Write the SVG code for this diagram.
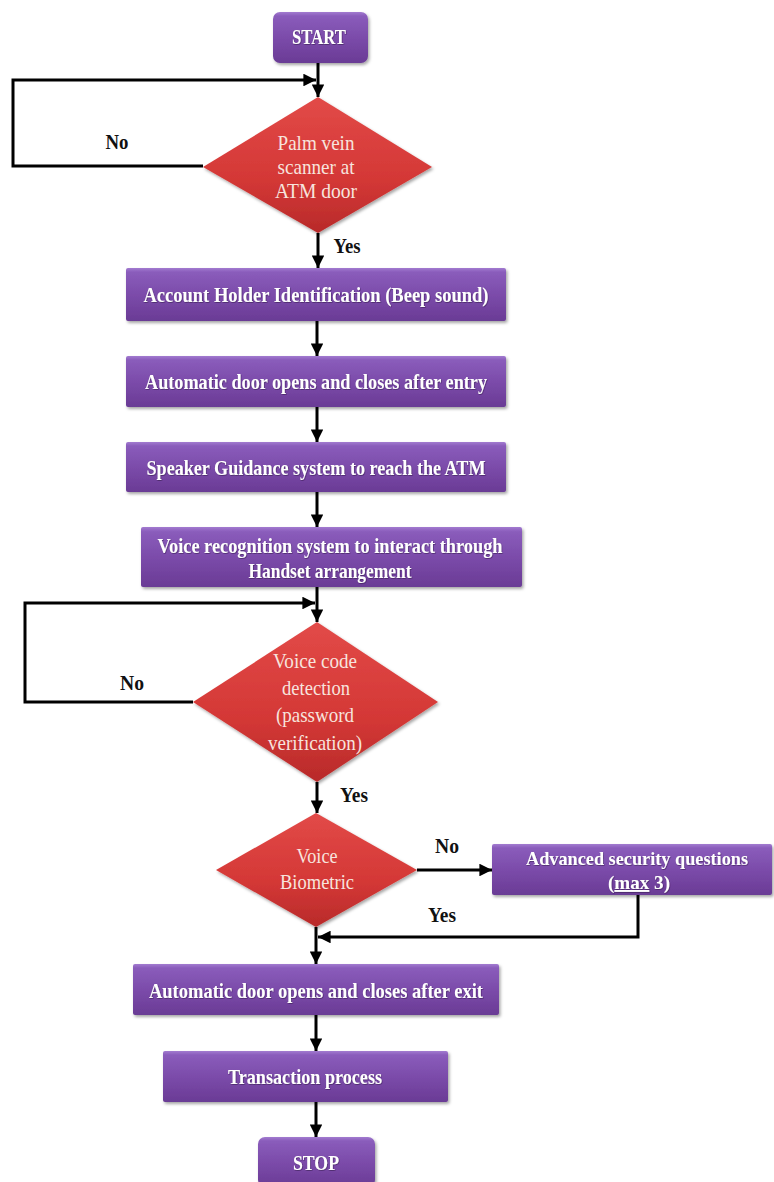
<svg xmlns="http://www.w3.org/2000/svg" width="774" height="1182" viewBox="0 0 774 1182">
<defs>
<linearGradient id="gp" x1="0" y1="0" x2="0" y2="1">
<stop offset="0" stop-color="#a27bd0"/>
<stop offset="0.08" stop-color="#8a5cbb"/>
<stop offset="0.6" stop-color="#7848a6"/>
<stop offset="1" stop-color="#6a3b95"/>
</linearGradient>
<linearGradient id="gr" x1="0" y1="0" x2="0" y2="1">
<stop offset="0" stop-color="#e24a48"/>
<stop offset="0.6" stop-color="#d43836"/>
<stop offset="1" stop-color="#b82a2a"/>
</linearGradient>
<filter id="sh" x="-10%" y="-10%" width="125%" height="140%">
<feDropShadow dx="1.5" dy="2" stdDeviation="1.5" flood-color="#000" flood-opacity="0.35"/>
</filter>
<filter id="ts" x="-5%" y="-20%" width="110%" height="150%">
<feDropShadow dx="0.6" dy="0.8" stdDeviation="0.5" flood-color="#2a0f40" flood-opacity="0.6"/>
</filter>
<marker id="ah" viewBox="0 0 10 10" refX="10" refY="5" markerWidth="4.2" markerHeight="4.2" orient="auto" markerUnits="strokeWidth">
<path d="M0,0 L10,5 L0,10 z" fill="#000"/>
</marker>
</defs>
<style>
.box{fill:url(#gp);filter:url(#sh);}
.dia{fill:url(#gr);filter:url(#sh);}
.bt{font-family:"Liberation Serif","Times New Roman",serif;font-weight:bold;font-size:21px;fill:#fff;text-anchor:middle;filter:url(#ts);}
.sm{font-size:19px;}
.dt{font-family:"Liberation Serif","Times New Roman",serif;font-size:22px;fill:#f7e4de;text-anchor:middle;}
.lb{font-family:"Liberation Serif","Times New Roman",serif;font-weight:bold;font-size:20px;fill:#111;text-anchor:middle;}
.cn{fill:none;stroke:#000;stroke-width:3;}
</style>
<rect width="774" height="1182" fill="#fff"/>

<g id="connectors">
<line class="cn" x1="318" y1="63" x2="318" y2="97" marker-end="url(#ah)"/>
<polyline class="cn" points="203,166 13,166 13,80 316,80" marker-end="url(#ah)"/>
<line class="cn" x1="318" y1="233" x2="318" y2="268" marker-end="url(#ah)"/>
<line class="cn" x1="317" y1="321" x2="317" y2="356" marker-end="url(#ah)"/>
<line class="cn" x1="317" y1="407" x2="317" y2="442" marker-end="url(#ah)"/>
<line class="cn" x1="317" y1="492" x2="317" y2="527" marker-end="url(#ah)"/>
<line class="cn" x1="317" y1="587" x2="317" y2="622" marker-end="url(#ah)"/>
<polyline class="cn" points="193,702 25,702 25,603 315,603" marker-end="url(#ah)"/>
<line class="cn" x1="317" y1="782" x2="317" y2="813" marker-end="url(#ah)"/>
<line class="cn" x1="417" y1="870" x2="492" y2="870" marker-end="url(#ah)"/>
<polyline class="cn" points="638,895 638,937 318,937" marker-end="url(#ah)"/>
<line class="cn" x1="316" y1="927" x2="316" y2="964" marker-end="url(#ah)"/>
<line class="cn" x1="316" y1="1015" x2="316" y2="1051" marker-end="url(#ah)"/>
<line class="cn" x1="316" y1="1102" x2="316" y2="1137" marker-end="url(#ah)"/>
<text class="lb" x="117" y="149" textLength="23" lengthAdjust="spacingAndGlyphs">No</text>
<text class="lb" x="347" y="253" textLength="27" lengthAdjust="spacingAndGlyphs">Yes</text>
<text class="lb" x="132" y="690" textLength="24" lengthAdjust="spacingAndGlyphs">No</text>
<text class="lb" x="354" y="802" textLength="28" lengthAdjust="spacingAndGlyphs">Yes</text>
<text class="lb" x="447" y="853" textLength="24" lengthAdjust="spacingAndGlyphs">No</text>
<text class="lb" x="442" y="922" textLength="28" lengthAdjust="spacingAndGlyphs">Yes</text>
</g>

<g id="start">
<rect class="box" x="273" y="12" width="95" height="51" rx="7"/>
<text class="bt" x="319" y="44" textLength="54" lengthAdjust="spacingAndGlyphs">START</text>
</g>

<g id="palm-vein">
<polygon class="dia" points="318,97 432,167 318,233 203,167"/>
<text class="dt" x="316" y="150" textLength="77" lengthAdjust="spacingAndGlyphs">Palm vein</text>
<text class="dt" x="316" y="174" textLength="77" lengthAdjust="spacingAndGlyphs">scanner at</text>
<text class="dt" x="316" y="198" textLength="82" lengthAdjust="spacingAndGlyphs">ATM door</text>
</g>

<g id="account-holder">
<rect class="box" x="126" y="268" width="380" height="53" rx="2"/>
<text class="bt" x="316" y="302" textLength="345" lengthAdjust="spacingAndGlyphs">Account Holder Identification (Beep sound)</text>
</g>

<g id="door-entry">
<rect class="box" x="126" y="356" width="380" height="51" rx="2"/>
<text class="bt" x="316" y="389" textLength="342" lengthAdjust="spacingAndGlyphs">Automatic door opens and closes after entry</text>
</g>

<g id="speaker-guidance">
<rect class="box" x="126" y="442" width="380" height="50" rx="2"/>
<text class="bt" x="316" y="475" textLength="339" lengthAdjust="spacingAndGlyphs">Speaker Guidance system to reach the ATM</text>
</g>

<g id="voice-recognition">
<rect class="box" x="141" y="527" width="381" height="60" rx="2"/>
<text class="bt" x="330" y="553" textLength="345" lengthAdjust="spacingAndGlyphs">Voice recognition system to interact through</text>
<text class="bt" x="330" y="578" textLength="163" lengthAdjust="spacingAndGlyphs">Handset arrangement</text>
</g>

<g id="voice-code">
<polygon class="dia" points="317,622 438,702 317,782 193,702"/>
<text class="dt" x="315" y="668" textLength="84" lengthAdjust="spacingAndGlyphs">Voice code</text>
<text class="dt" x="316" y="695" textLength="68" lengthAdjust="spacingAndGlyphs">detection</text>
<text class="dt" x="315" y="722" textLength="78" lengthAdjust="spacingAndGlyphs">(password</text>
<text class="dt" x="315" y="750" textLength="94" lengthAdjust="spacingAndGlyphs">verification)</text>
</g>

<g id="voice-biometric">
<polygon class="dia" points="316,813 417,870 316,927 216,870"/>
<text class="dt" x="317" y="863" textLength="41" lengthAdjust="spacingAndGlyphs">Voice</text>
<text class="dt" x="317" y="889" textLength="74" lengthAdjust="spacingAndGlyphs">Biometric</text>
</g>

<g id="security-questions">
<rect class="box" x="492" y="844" width="280" height="51" rx="2"/>
<text class="bt sm" x="637" y="865" textLength="222" lengthAdjust="spacingAndGlyphs">Advanced  security questions</text>
<text class="bt sm" x="639" y="889" textLength="62" lengthAdjust="spacingAndGlyphs">(<tspan text-decoration="underline">max</tspan> 3)</text>
</g>

<g id="door-exit">
<rect class="box" x="133" y="964" width="366" height="51" rx="2"/>
<text class="bt" x="316" y="998" textLength="334" lengthAdjust="spacingAndGlyphs">Automatic door opens and closes after exit</text>
</g>

<g id="transaction">
<rect class="box" x="163" y="1051" width="285" height="51" rx="2"/>
<text class="bt" x="305" y="1084" textLength="154" lengthAdjust="spacingAndGlyphs">Transaction process</text>
</g>

<g id="stop">
<rect class="box" x="258" y="1137" width="117" height="50" rx="7"/>
<text class="bt" x="316" y="1170" textLength="46" lengthAdjust="spacingAndGlyphs">STOP</text>
</g>
</svg>
